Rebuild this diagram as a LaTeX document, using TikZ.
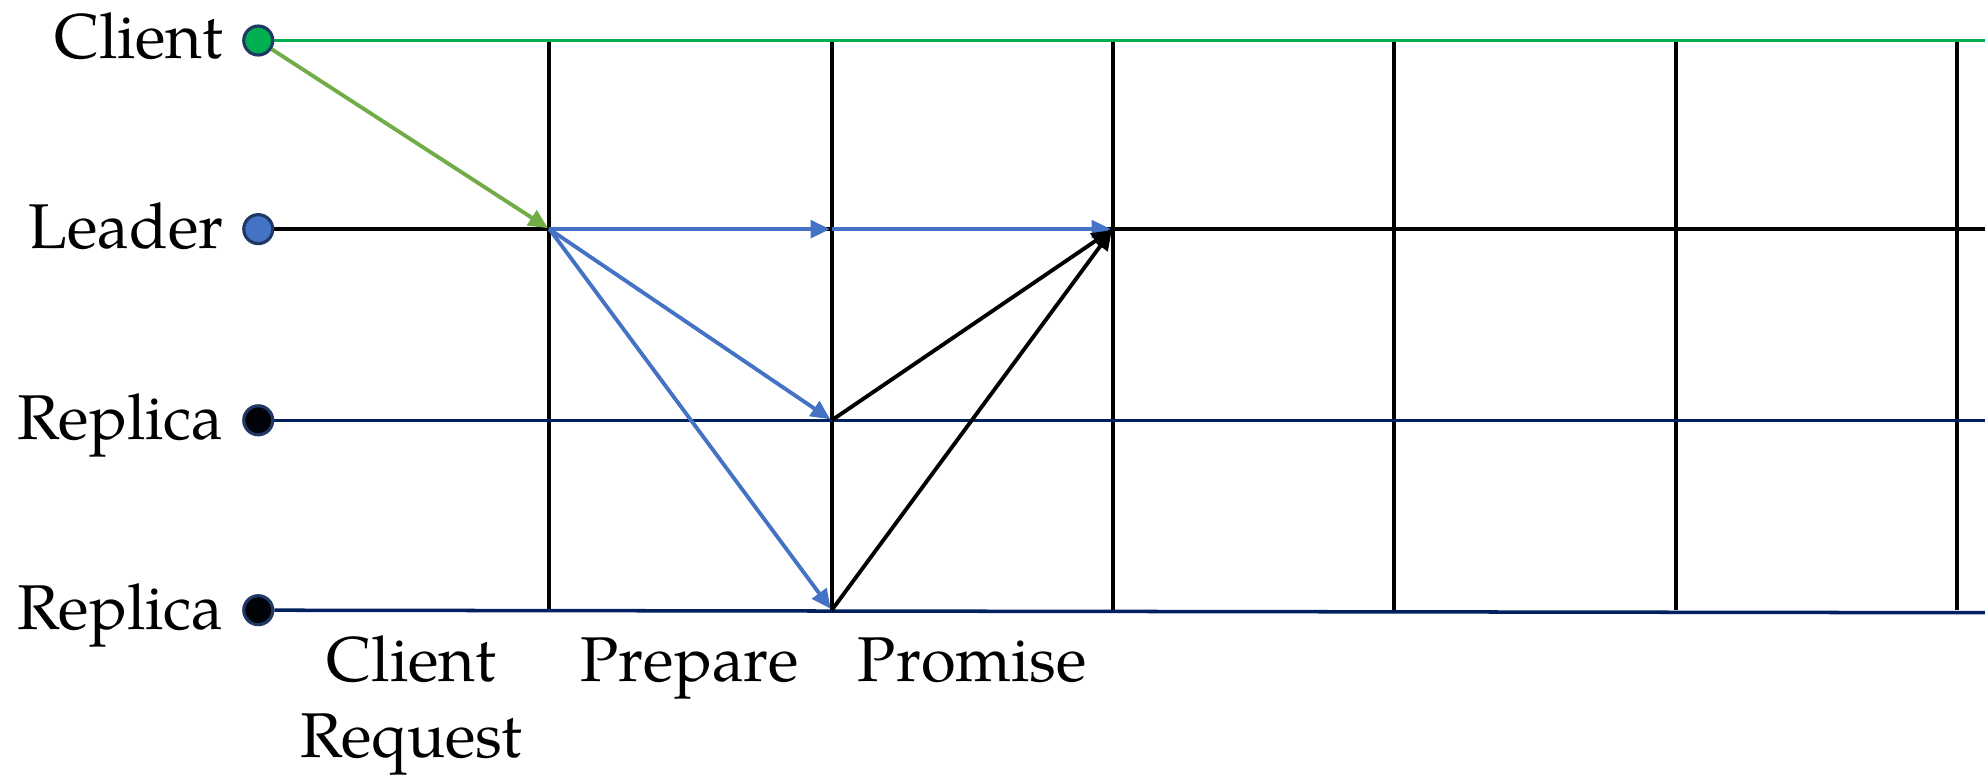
\documentclass[tikz,border=0pt]{standalone}
\usepackage{fontspec}
\setmainfont{TeX Gyre Pagella}
\usetikzlibrary{arrows.meta}
\definecolor{clientgreen}{HTML}{00B050}
\definecolor{reqgreen}{HTML}{70AD47}
\definecolor{leaderblue}{HTML}{4472C4}
\definecolor{replicanavy}{HTML}{002060}
\definecolor{dotrim}{HTML}{203864}
\newcommand{\labelfont}{\fontsize{18}{21.6}\selectfont}

\tikzset{
  proc/.style={circle, draw=dotrim, line width=0.9pt, minimum size=0.29cm, inner sep=0pt},
  procname/.style={anchor=base east, inner sep=0pt, font=\labelfont},
  phasename/.style={anchor=base, inner sep=0pt, align=center, font=\labelfont},
  gridline/.style={black, line width=1.15pt},
  timeline/.style={line width=1pt},
  msg/.style={-{Triangle[length=5.5pt, width=5pt]}, line width=1.1pt, shorten >=0.5pt},
}

\begin{document}
\begin{tikzpicture}[x=0.01266cm, y=-0.01266cm]
  \useasboundingbox (0,0) rectangle (1568,614);
  % ---------------------------------------------------------------- vertical time steps
  \foreach \x [count=\i] in {434,657,879,1101,1324,1546} {
    \coordinate (top\i) at (\x,32);
    \coordinate (lead\i) at (\x,181);
    \coordinate (repa\i) at (\x,332);
    \coordinate (repb\i) at (\x,482);
    \draw[gridline] (top\i) -- (repb\i);
  }
  % ---------------------------------------------------------------- the four processes
  \node[proc, fill=clientgreen] (client) at (204,32) {};
  \node[proc, fill=leaderblue] (leader) at (204,181) {};
  \node[proc, fill=black!92!replicanavy] (replicaA) at (204,332) {};
  \node[proc, fill=black!92!replicanavy] (replicaB) at (204,482) {};
  \node[procname] (clientname) at (177,46) {Client};
  \node[procname] (leadername) at (177,196) {Leader};
  \node[procname] (replicaAname) at (177,347) {Replica};
  \node[procname] (replicaBname) at (177,497) {Replica};
  % right ends of the time lines
  \coordinate (clientend) at (1568,32);
  \coordinate (leaderend) at (1568,181);
  \coordinate (replicaAend) at (1568,332);
  \coordinate (replicaBend) at (1568,484);
  \draw[timeline, clientgreen] (client) -- (clientend);
  \draw[timeline, black] (leader) -- (leaderend);
  \draw[timeline, replicanavy] (replicaA) -- (replicaAend);
  \draw[timeline, replicanavy] (replicaB) -- (replicaBend);
  % ---------------------------------------------------------------- messages
  \draw[msg, reqgreen] (client) -- (lead1);
  \draw[msg, leaderblue] (lead1) -- (lead2);
  \draw[msg, leaderblue] (lead2) -- (lead3);
  \draw[msg, leaderblue] (lead1) -- (repa2);
  \draw[msg, leaderblue] (lead1) -- (repb2);
  \draw[msg, black] (repa2) -- (lead3);
  \draw[msg, black] (repb2) -- (lead3);
  % ---------------------------------------------------------------- phase names
  \node[phasename] (request) at (325,598) {Client\\Request};
  \node[phasename] (prepare) at (545,538) {Prepare};
  \node[phasename] (promise) at (768,538) {Promise};
\end{tikzpicture}
\end{document}
